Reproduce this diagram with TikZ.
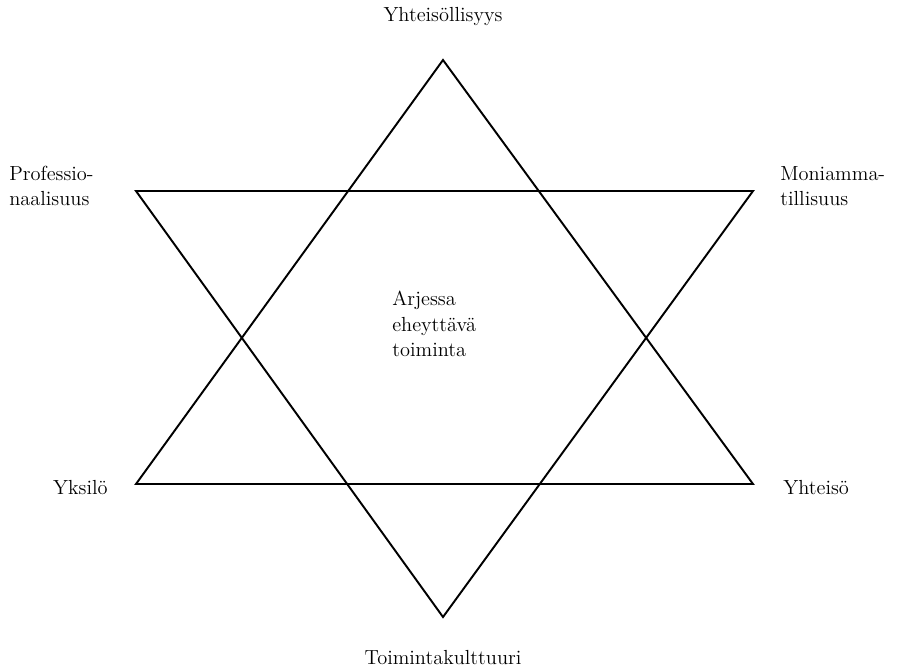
\documentclass[tikz,border=0pt]{standalone}
\usepackage{tikz}
\usetikzlibrary{positioning,calc}

\begin{document}
\begin{tikzpicture}[
    x=0.02cm, y=-0.02cm,
    edge/.style={draw=black, line width=1.1pt, line join=miter},
    lbl/.style={font=\fontsize{11.6}{14.6}\selectfont, inner sep=0pt, align=left},
]
\useasboundingbox (0,0) rectangle (899,667);

% upward triangle
\coordinate (top) at (443,60);
\coordinate (botleft) at (136,484);
\coordinate (botright) at (753,484);
% downward triangle
\coordinate (upleft) at (136,191);
\coordinate (upright) at (753,191);
\coordinate (bottom) at (443,617);

\draw[edge] (top) -- (botleft) -- (botright) -- cycle;
\draw[edge] (upleft) -- (upright) -- (bottom) -- cycle;

\node[lbl] (yhteisollisyys) at (443,17) {Yhteisöllisyys};
\node[lbl, anchor=west] (professio) at (9,186) {Professio-\\naalisuus};
\node[lbl, anchor=west] (moniamma) at (780,186) {Moniamma-\\tillisuus};
\node[lbl, anchor=east] (yksilo) at (108,488) {Yksilö};
\node[lbl, anchor=west] (yhteiso) at (783,488) {Yhteisö};
\node[lbl] (toiminta) at (443,658) {Toimintakulttuuri};
\node[lbl, anchor=west] (arjessa) at (392,324) {Arjessa\\eheyttävä\\toiminta};
\end{tikzpicture}
\end{document}
